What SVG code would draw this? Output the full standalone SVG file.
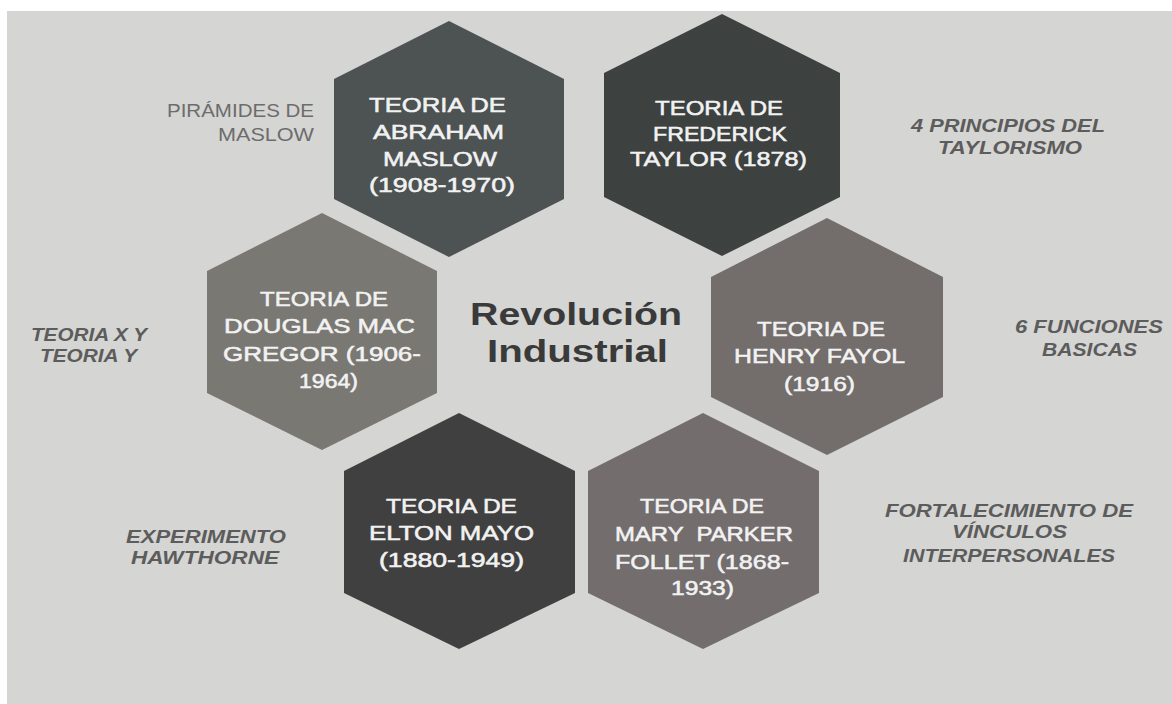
<svg xmlns="http://www.w3.org/2000/svg" width="1172" height="704" viewBox="0 0 1172 704">
<style>
.ht{font-family:"Liberation Sans",Arial,sans-serif;font-size:21px;fill:#f2f2f2;stroke:#f2f2f2;stroke-width:0.55}
.lab{font-family:"Liberation Sans",Arial,sans-serif;font-size:19px;fill:#6c6c6c}
.bi{font-family:"Liberation Sans",Arial,sans-serif;font-size:18px;font-weight:bold;font-style:italic;fill:#5c5c5c}
.ctr{font-family:"Liberation Sans",Arial,sans-serif;font-size:31px;font-weight:bold;fill:#3a3a3a}
</style>
<rect x="0" y="0" width="1172" height="704" fill="#ffffff"/>
<rect x="7" y="11" width="1165" height="693" fill="#d5d5d3"/>

<g id="maslow">
<polygon points="449,21 564,79 564,199 449,257 334,199 334,79" fill="#4d5353"/>
<text class="ht" x="369" y="112" textLength="137" lengthAdjust="spacingAndGlyphs">TEORIA DE</text>
<text class="ht" x="373" y="139" textLength="131" lengthAdjust="spacingAndGlyphs">ABRAHAM</text>
<text class="ht" x="383" y="166" textLength="114" lengthAdjust="spacingAndGlyphs">MASLOW</text>
<text class="ht" x="369" y="192" textLength="146" lengthAdjust="spacingAndGlyphs">(1908-1970)</text>
</g>

<g id="taylor">
<polygon points="722,14 840,73 840,197 722,256 604,197 604,73" fill="#3d4140"/>
<text class="ht" x="655" y="115" textLength="128" lengthAdjust="spacingAndGlyphs">TEORIA DE</text>
<text class="ht" x="653" y="141" textLength="134" lengthAdjust="spacingAndGlyphs">FREDERICK</text>
<text class="ht" x="630" y="166" textLength="177" lengthAdjust="spacingAndGlyphs">TAYLOR (1878)</text>
</g>

<g id="mcgregor">
<polygon points="322,213 437,271 437,393 322,450 207,393 207,271" fill="#7a7873"/>
<text class="ht" x="260" y="306" textLength="128" lengthAdjust="spacingAndGlyphs">TEORIA DE</text>
<text class="ht" x="224" y="333" textLength="191" lengthAdjust="spacingAndGlyphs">DOUGLAS MAC</text>
<text class="ht" x="223" y="361" textLength="198" lengthAdjust="spacingAndGlyphs">GREGOR (1906-</text>
<text class="ht" x="299" y="388" textLength="59" lengthAdjust="spacingAndGlyphs">1964)</text>
</g>

<g id="fayol">
<polygon points="827,218 943,277 943,397 827,455 711,397 711,277" fill="#736d6b"/>
<text class="ht" x="757" y="336" textLength="128" lengthAdjust="spacingAndGlyphs">TEORIA DE</text>
<text class="ht" x="734" y="363" textLength="171" lengthAdjust="spacingAndGlyphs">HENRY FAYOL</text>
<text class="ht" x="784" y="391" textLength="71" lengthAdjust="spacingAndGlyphs">(1916)</text>
</g>

<g id="mayo">
<polygon points="459,413 575,471 575,593 459,649 344,593 344,471" fill="#404040"/>
<text class="ht" x="386" y="513" textLength="131" lengthAdjust="spacingAndGlyphs">TEORIA DE</text>
<text class="ht" x="369" y="540" textLength="165" lengthAdjust="spacingAndGlyphs">ELTON MAYO</text>
<text class="ht" x="379" y="567" textLength="145" lengthAdjust="spacingAndGlyphs">(1880-1949)</text>
</g>

<g id="follet">
<polygon points="703,413 819,471 819,593 703,649 588,593 588,471" fill="#736d6e"/>
<text class="ht" x="640" y="513" textLength="124" lengthAdjust="spacingAndGlyphs">TEORIA DE</text>
<text class="ht" x="615" y="541" textLength="178" lengthAdjust="spacingAndGlyphs" style="white-space:pre">MARY  PARKER</text>
<text class="ht" x="615" y="569" textLength="174" lengthAdjust="spacingAndGlyphs">FOLLET (1868-</text>
<text class="ht" x="671" y="595" textLength="63" lengthAdjust="spacingAndGlyphs">1933)</text>
</g>

<g id="centro">
<text class="ctr" x="470" y="325" textLength="212" lengthAdjust="spacingAndGlyphs">Revolución</text>
<text class="ctr" x="487" y="362" textLength="181" lengthAdjust="spacingAndGlyphs">Industrial</text>
</g>

<g id="etiquetas">
<text class="lab" x="167" y="117" textLength="147" lengthAdjust="spacingAndGlyphs">PIRÁMIDES DE</text>
<text class="lab" x="218" y="141" textLength="96" lengthAdjust="spacingAndGlyphs">MASLOW</text>
<text class="bi" x="911" y="132" textLength="194" lengthAdjust="spacingAndGlyphs">4 PRINCIPIOS DEL</text>
<text class="bi" x="938" y="154" textLength="144" lengthAdjust="spacingAndGlyphs">TAYLORISMO</text>
<text class="bi" x="1015" y="333" textLength="148" lengthAdjust="spacingAndGlyphs">6 FUNCIONES</text>
<text class="bi" x="1042" y="356" textLength="95" lengthAdjust="spacingAndGlyphs">BASICAS</text>
<text class="bi" x="31" y="341" textLength="116" lengthAdjust="spacingAndGlyphs">TEORIA X Y</text>
<text class="bi" x="40" y="362" textLength="97" lengthAdjust="spacingAndGlyphs">TEORIA Y</text>
<text class="bi" x="126" y="543" textLength="160" lengthAdjust="spacingAndGlyphs">EXPERIMENTO</text>
<text class="bi" x="131" y="564" textLength="148" lengthAdjust="spacingAndGlyphs">HAWTHORNE</text>
<text class="bi" x="885" y="517" textLength="248" lengthAdjust="spacingAndGlyphs">FORTALECIMIENTO DE</text>
<text class="bi" x="952" y="538" textLength="115" lengthAdjust="spacingAndGlyphs">VÍNCULOS</text>
<text class="bi" x="903" y="562" textLength="212" lengthAdjust="spacingAndGlyphs">INTERPERSONALES</text>
</g>
</svg>
